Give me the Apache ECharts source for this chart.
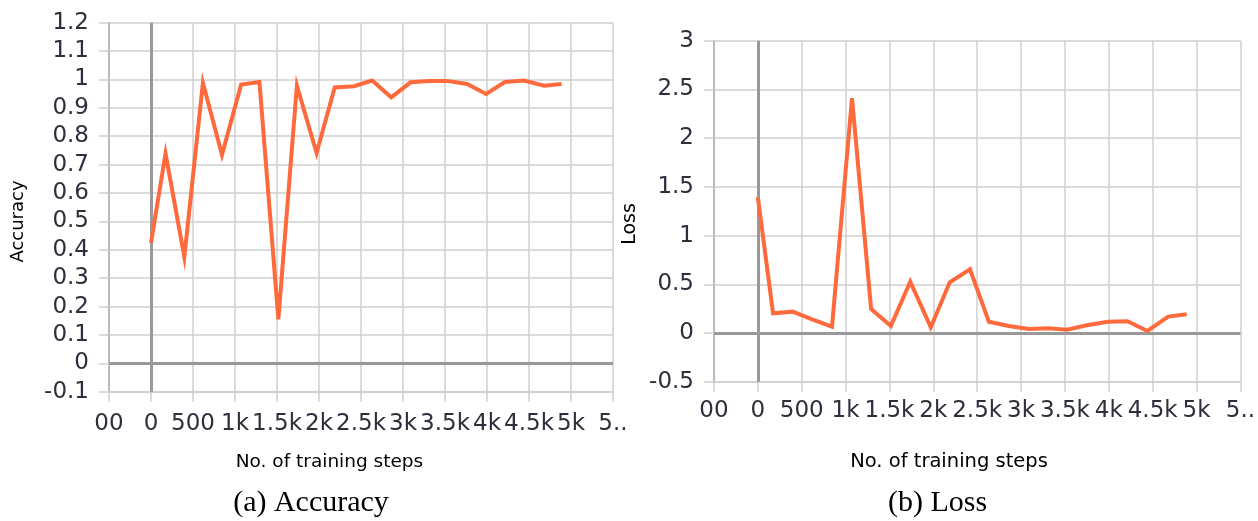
<!DOCTYPE html>
<html>
<head>
<meta charset="utf-8">
<script src="https://cdn.jsdelivr.net/npm/echarts@6/dist/echarts.min.js"></script>
<style>
html,body{margin:0;padding:0;background:#fff;}
#chart{width:1258px;height:521px;}
</style>
</head>
<body>
<div id="chart"></div>
<script>
const steps = [0,173,397,618,845,1073,1291,1516,1737,1971,2187,2418,2633,2860,3090,3311,3523,3763,3990,4213,4440,4677,4888];
const accuracy = [0.424,0.739,0.375,0.988,0.735,0.982,0.991,0.155,0.978,0.741,0.972,0.976,0.996,0.937,0.990,0.995,0.995,0.984,0.949,0.991,0.996,0.978,0.984];
const loss = [1.394,0.202,0.219,0.140,0.065,2.41,0.247,0.072,0.527,0.058,0.52,0.654,0.116,0.072,0.041,0.048,0.034,0.082,0.116,0.12,0.021,0.168,0.192];
const xTickLabels = ['00','0','500','1k','1.5k','2k','2.5k','3k','3.5k','4k','4.5k','5k','5..'];
const xMin = -500, xMax = 5500, xStep = 500;
const accTicks = {min:-0.1, max:1.2, interval:0.1};
const lossTicks = {min:-0.5, max:3, interval:0.5};
const xName = 'No. of training steps';
const yNames = ['Accuracy','Loss'];
const captions = ['(a) Accuracy','(b) Loss'];

const lineColor = '#ff6a3d';
const gridColor = '#cfcfcf';
const zeroColor = '#999999';
const labelColor = '#2e2e3c';
const sans = 'DejaVu Sans';

function fmtY(v){
  const r = Math.round(v*10)/10;
  return String(r);
}
function xAxisCfg(gi, margin){
  return {
    type:'value', gridIndex:gi, min:xMin, max:xMax, interval:xStep,
    axisLine:{show:true, onZero:false, lineStyle:{color:gridColor, width:1.5}},
    axisTick:{show:true, length:10, lineStyle:{color:gridColor, width:1.5}},
    splitLine:{show:true, lineStyle:{color:gridColor, width:1.5}},
    axisLabel:{show:true, margin:margin, color:labelColor, fontFamily:sans, fontSize:23,
      showMinLabel:true, showMaxLabel:true,
      formatter:function(v){ return xTickLabels[Math.round((v-xMin)/xStep)]; }}
  };
}
function yAxisCfg(gi, t){
  return {
    type:'value', gridIndex:gi, min:t.min, max:t.max, interval:t.interval,
    axisLine:{show:true, onZero:false, lineStyle:{color:'#b0b0b0', width:1.5}},
    axisTick:{show:true, length:10, lineStyle:{color:gridColor, width:1.5}},
    splitLine:{show:true, lineStyle:{color:gridColor, width:1.5}},
    axisLabel:{show:true, margin:20, color:labelColor, fontFamily:sans, fontSize:23,
      showMinLabel:true, showMaxLabel:true, formatter:fmtY}
  };
}
function zeroSeries(i){
  return {
    type:'line', xAxisIndex:i, yAxisIndex:i, data:[], z:1, silent:true,
    markLine:{silent:true, symbol:'none', animation:false,
      label:{show:false},
      lineStyle:{color:zeroColor, width:3, type:'solid'},
      data:[{xAxis:0},{yAxis:0}]}
  };
}
function dataSeries(i, vals){
  return {
    type:'line', xAxisIndex:i, yAxisIndex:i, z:5, symbol:'none', animation:false,
    lineStyle:{color:lineColor, width:4, join:'miter'},
    data: steps.map((s,k)=>[s, vals[k]])
  };
}

const chart = echarts.init(document.getElementById('chart'), null, {renderer:'canvas'});
chart.setOption({
  animation:false,
  backgroundColor:'#ffffff',
  grid:[
    {left:109, top:22.7, width:504, height:369},
    {left:714, top:40.7, width:536.3, height:341}
  ],
  xAxis:[xAxisCfg(0, 21), xAxisCfg(1, 18)],
  yAxis:[yAxisCfg(0, accTicks), yAxisCfg(1, lossTicks)],
  series:[zeroSeries(0), zeroSeries(1), dataSeries(0, accuracy), dataSeries(1, loss)],
  graphic:[
    {type:'text', x:18.3, y:221.5, rotation:Math.PI/2, style:{text:yNames[0], fill:'#000', font:'18px "DejaVu Sans"', align:'center', verticalAlign:'middle'}},
    {type:'text', x:630.5, y:224, rotation:Math.PI/2, style:{text:yNames[1], fill:'#000', font:'19px "DejaVu Sans"', align:'center', verticalAlign:'middle'}},
    {type:'text', x:329.5, y:462, style:{text:xName, fill:'#000', font:'18.5px "DejaVu Sans"', align:'center', verticalAlign:'middle'}},
    {type:'text', x:949, y:462, style:{text:xName, fill:'#000', font:'19.5px "DejaVu Sans"', align:'center', verticalAlign:'middle'}},
    {type:'text', x:311, y:503, style:{text:captions[0], fill:'#000', font:'30px "Liberation Serif"', align:'center', verticalAlign:'middle'}},
    {type:'text', x:937.5, y:503, style:{text:captions[1], fill:'#000', font:'30px "Liberation Serif"', align:'center', verticalAlign:'middle'}}
  ]
});
</script>
</body>
</html>
